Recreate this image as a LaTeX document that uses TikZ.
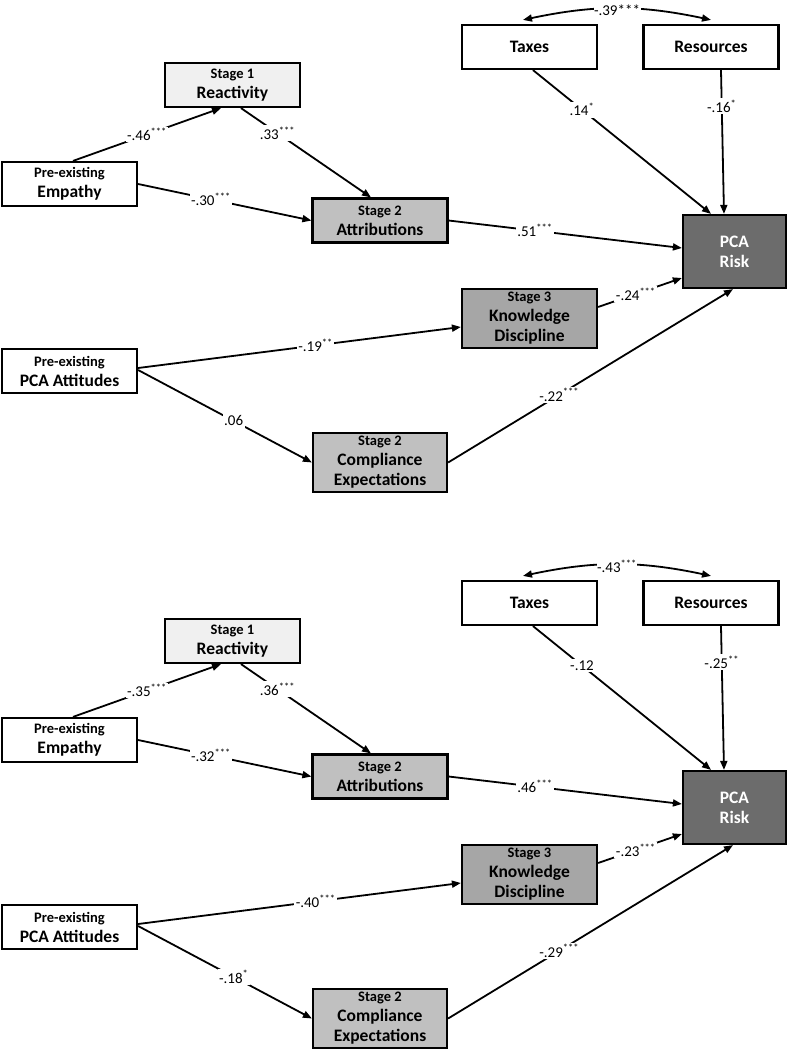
\documentclass[tikz,border=0pt]{standalone}
\usepackage{fontspec}
\setmainfont{Carlito}
\usetikzlibrary{arrows.meta}
\definecolor{reactfill}{RGB}{240,240,240}
\definecolor{stagetwo}{RGB}{192,192,192}
\definecolor{stagethree}{RGB}{166,166,166}
\definecolor{riskfill}{RGB}{108,108,108}
\newcommand{\stagetxt}[1]{{\fontsize{14.5}{19}\selectfont #1}}
\begin{document}
\begin{tikzpicture}[x=1pt,y=-1pt,
  box/.style={draw=black, line width=2.2pt, inner sep=0pt, align=center,
    minimum width=135pt, minimum height=44pt,
    font=\bfseries\fontsize{17.5}{20}\selectfont},
  tall/.style={minimum height=59pt},
  arr/.style={line width=1.8pt, -{Triangle[length=9pt,width=7pt]}},
  dbl/.style={line width=1.8pt, {Triangle[length=9pt,width=7pt]}-{Triangle[length=9pt,width=7pt]}},
  lab/.style={fill=white, inner sep=1.5pt, font=\fontsize{15}{17}\selectfont},
  toplab/.style={fill=white, inner sep=0.5pt, yshift=-2pt, font=\fontsize{15}{17}\selectfont}]
\useasboundingbox (0,0) rectangle (788,1050);

% ---------------- top panel ----------------
\node[box, fill=reactfill] (reactA) at (232.5,85) {\stagetxt{Stage 1}\\Reactivity};
\node[box, fill=white] (empA) at (69.5,184) {\stagetxt{Pre-existing}\\Empathy};
\node[box, fill=stagetwo] (attrA) at (380,220.5) {\stagetxt{Stage 2}\\Attributions};
\node[box, fill=white] (taxA) at (529.5,47) {Taxes};
\node[box, fill=white] (resA) at (711,47) {Resources};
\node[box, fill=riskfill, text=white, minimum width=103pt, minimum height=73pt] (pcaA) at (734.5,251.5) {PCA\\Risk};
\node[box, tall, fill=stagethree] (knowA) at (529.5,318.5) {\stagetxt{Stage 3}\\Knowledge\\Discipline};
\node[box, fill=white] (attA) at (69.5,371) {\stagetxt{Pre-existing}\\PCA Attitudes};
\node[box, tall, fill=stagetwo, minimum width=134pt] (compA) at (380,462.5) {\stagetxt{Stage 2}\\Compliance\\Expectations};

\draw[arr] ([xshift=3.5pt]empA.north) -- node[lab,pos=0.5]{-.46\textsuperscript{***}} ([xshift=-11.5pt]reactA.south);
\draw[arr] ([xshift=8.5pt]reactA.south) -- node[lab,pos=0.28]{.33\textsuperscript{***}} ([xshift=-9pt]attrA.north);
\draw[arr] (empA.east) -- node[lab,pos=0.42]{-.30\textsuperscript{***}} (attrA.west);
\draw[arr] (attrA.east) -- node[lab,pos=0.37]{.51\textsuperscript{***}} ([yshift=3.5pt]pcaA.west);
\draw[arr] ([xshift=3.5pt]taxA.south) -- node[lab,pos=0.275]{.14\textsuperscript{*}} ([xshift=-23.5pt]pcaA.north);
\draw[arr] ([xshift=10pt]resA.south) -- node[lab,pos=0.25]{-.16\textsuperscript{*}} ([xshift=-10.5pt]pcaA.north);
\draw[dbl] ([xshift=-6.5pt,yshift=4pt]taxA.north) to[bend left=12] node[toplab]{-.39***} ([yshift=4pt]resA.north);
\draw[arr] ([yshift=11.5pt]knowA.east) -- node[lab,pos=0.45]{-.24\textsuperscript{***}} ([yshift=-26.5pt]pcaA.west);
\draw[arr] ([yshift=3pt]attA.east) -- node[lab,pos=0.55]{-.19\textsuperscript{**}} ([yshift=-8.5pt]knowA.west);
\draw[arr] ([yshift=1pt]attA.east) -- node[lab,pos=0.55]{.06} (compA.west);
\draw[arr] (compA.east) -- node[lab,pos=0.39]{-.22\textsuperscript{***}} ([xshift=-1.5pt]pcaA.south);

% ---------------- bottom panel ----------------
\begin{scope}[shift={(0,556)}]
\node[box, fill=reactfill] (reactB) at (232.5,85) {\stagetxt{Stage 1}\\Reactivity};
\node[box, fill=white] (empB) at (69.5,184) {\stagetxt{Pre-existing}\\Empathy};
\node[box, fill=stagetwo] (attrB) at (380,220.5) {\stagetxt{Stage 2}\\Attributions};
\node[box, fill=white] (taxB) at (529.5,47) {Taxes};
\node[box, fill=white] (resB) at (711,47) {Resources};
\node[box, fill=riskfill, text=white, minimum width=103pt, minimum height=73pt] (pcaB) at (734.5,251.5) {PCA\\Risk};
\node[box, tall, fill=stagethree] (knowB) at (529.5,318.5) {\stagetxt{Stage 3}\\Knowledge\\Discipline};
\node[box, fill=white] (attB) at (69.5,371) {\stagetxt{Pre-existing}\\PCA Attitudes};
\node[box, tall, fill=stagetwo, minimum width=134pt] (compB) at (380,462.5) {\stagetxt{Stage 2}\\Compliance\\Expectations};
\end{scope}

\draw[arr] ([xshift=3.5pt]empB.north) -- node[lab,pos=0.5]{-.35\textsuperscript{***}} ([xshift=-11.5pt]reactB.south);
\draw[arr] ([xshift=8.5pt]reactB.south) -- node[lab,pos=0.28]{.36\textsuperscript{***}} ([xshift=-9pt]attrB.north);
\draw[arr] (empB.east) -- node[lab,pos=0.42]{-.32\textsuperscript{***}} (attrB.west);
\draw[arr] (attrB.east) -- node[lab,pos=0.37]{.46\textsuperscript{***}} ([yshift=3.5pt]pcaB.west);
\draw[arr] ([xshift=3.5pt]taxB.south) -- node[lab,pos=0.275]{-.12} ([xshift=-23.5pt]pcaB.north);
\draw[arr] ([xshift=10pt]resB.south) -- node[lab,pos=0.25]{-.25\textsuperscript{**}} ([xshift=-10.5pt]pcaB.north);
\draw[dbl] ([xshift=-6.5pt,yshift=4pt]taxB.north) to[bend left=12] node[toplab]{-.43\textsuperscript{***}} ([yshift=4pt]resB.north);
\draw[arr] ([yshift=11.5pt]knowB.east) -- node[lab,pos=0.45]{-.23\textsuperscript{***}} ([yshift=-26.5pt]pcaB.west);
\draw[arr] ([yshift=3pt]attB.east) -- node[lab,pos=0.55]{-.40\textsuperscript{***}} ([yshift=-8.5pt]knowB.west);
\draw[arr] ([yshift=1pt]attB.east) -- node[lab,pos=0.55]{-.18\textsuperscript{*}} (compB.west);
\draw[arr] (compB.east) -- node[lab,pos=0.39]{-.29\textsuperscript{***}} ([xshift=-1.5pt]pcaB.south);
\end{tikzpicture}
\end{document}
